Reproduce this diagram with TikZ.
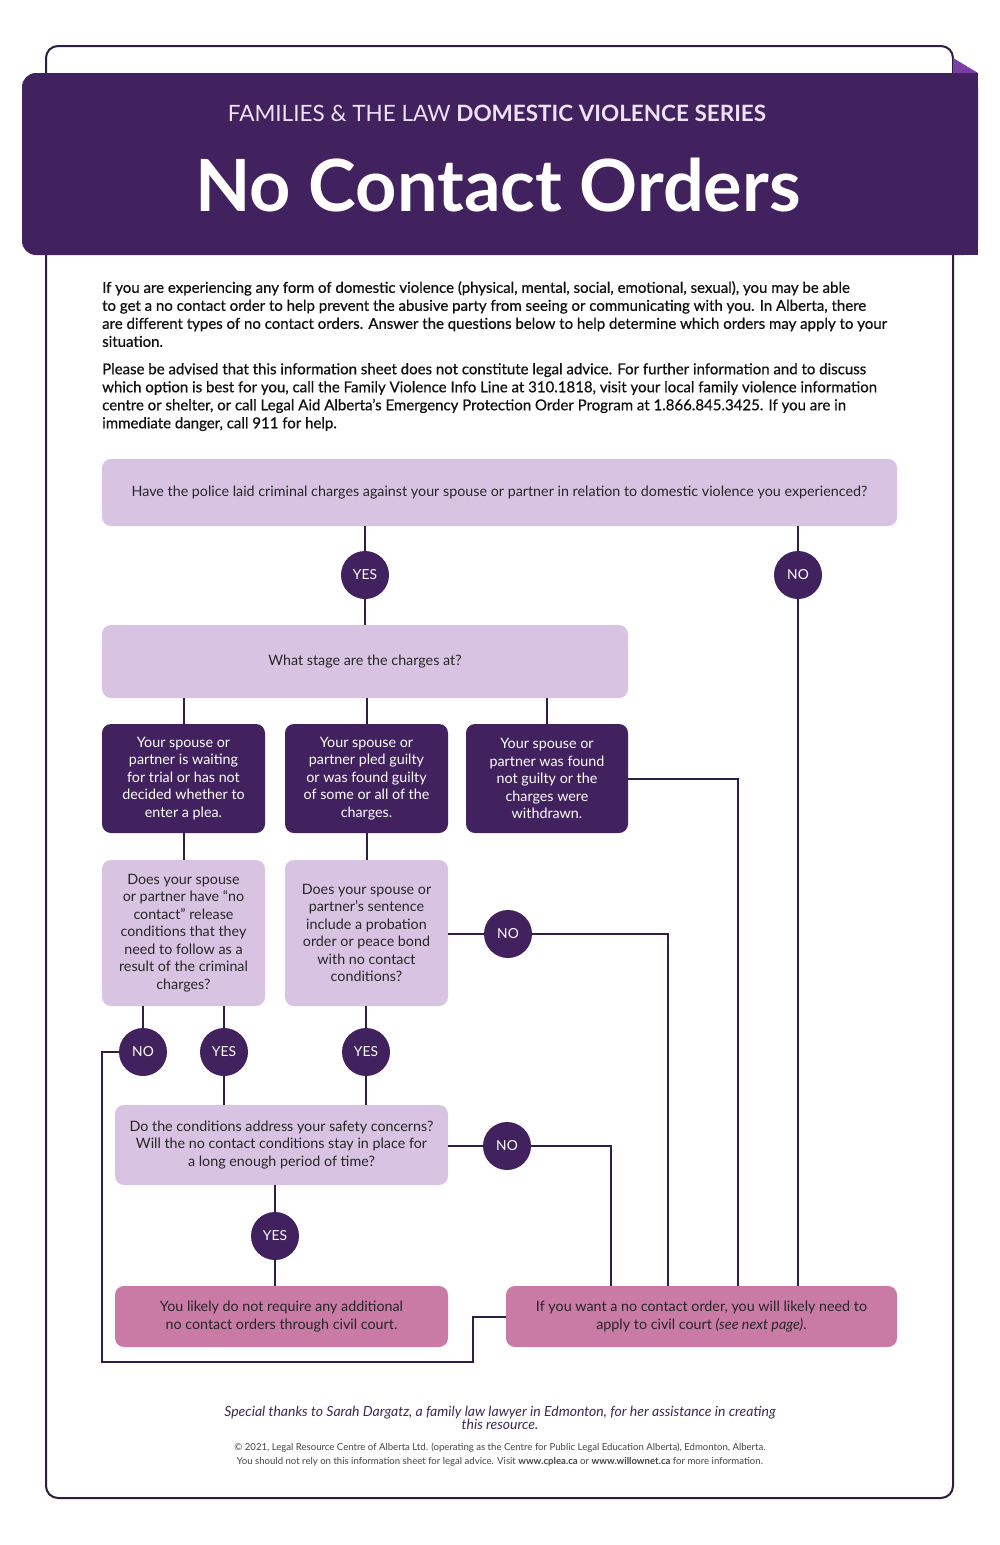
\documentclass[tikz,border=0pt]{standalone}
\usepackage{fontspec}
\setmainfont{Lato}
\usetikzlibrary{calc}
\definecolor{dp}{HTML}{42215F}
\definecolor{lav}{HTML}{D8C4E2}
\definecolor{rose}{HTML}{C97BA5}
\definecolor{ln}{HTML}{2F1F48}
\definecolor{framec}{HTML}{2B1E3F}
\definecolor{fold}{HTML}{7B3FA3}
\definecolor{hdrtxt}{HTML}{EEE2F5}
\definecolor{bodytxt}{HTML}{111111}
\definecolor{flowtxt}{HTML}{262626}
\definecolor{ftxt}{HTML}{3B2A55}
\definecolor{ctxt}{HTML}{444444}
\tikzset{
  boxbase/.style={rectangle, rounded corners=9, align=center, inner sep=0pt, font=\fontsize{14.3}{17.5}\selectfont},
  lbox/.style={boxbase, fill=lav, text=flowtxt},
  dbox/.style={boxbase, fill=dp, text=white},
  rbox/.style={boxbase, fill=rose, text=flowtxt},
  circ/.style={circle, fill=dp, text=white, minimum size=48pt, inner sep=0pt, font=\fontsize{13.8}{13.8}\selectfont},
  conn/.style={draw=ln, line width=2pt},
  introtxt/.style={anchor=north west, align=left, inner sep=0pt, text=bodytxt, font=\fontsize{15}{18}\selectfont\addfontfeature{FakeBold=0.6}},
}
\begin{document}
\begin{tikzpicture}[x=1pt,y=-1pt]
\useasboundingbox (0,0) rectangle (1000,1545);
\fill[white] (0,0) rectangle (1000,1545);
% frame
\draw[framec, line width=2pt, rounded corners=12] (46,46) rectangle (953,1498);
% header
\fill[fold] (953,58) -- (978,73) -- (953,73) -- cycle;
\fill[dp, rounded corners=14] (22,73) rectangle (978,255);
\fill[dp] (940,73) rectangle (978,255);
\node[text=hdrtxt, font=\fontsize{22.5}{22.5}\selectfont, inner sep=0pt] (series) at (497,113) {FAMILIES \& THE LAW \textbf{DOMESTIC VIOLENCE SERIES}};
\node[text=white, font=\fontsize{72}{72}\selectfont\bfseries, inner sep=0pt] (title) at (498,185) {No Contact Orders};
% intro
\node[introtxt] (intro1) at (102,281)
{If you are experiencing any form of domestic violence (physical, mental, social, emotional, sexual), you may be able\\
to get a no contact order to help prevent the abusive party from seeing or communicating with you. In Alberta, there\\
are different types of no contact orders. Answer the questions below to help determine which orders may apply to your\\
situation.};
\node[introtxt] (intro2) at (102,363)
{Please be advised that this information sheet does not constitute legal advice. For further information and to discuss\\
which option is best for you, call the Family Violence Info Line at 310.1818, visit your local family violence information\\
centre or shelter, or call Legal Aid Alberta’s Emergency Protection Order Program at 1.866.845.3425. If you are in\\
immediate danger, call 911 for help.};
% boxes
\node[lbox, minimum width=795pt, minimum height=67pt] (q1) at (499.5,492.5) {Have the police laid criminal charges against your spouse or partner in relation to domestic violence you experienced?};
\node[lbox, minimum width=526pt, minimum height=73pt] (q2) at (365,661.5) {What stage are the charges at?};
\node[dbox, minimum width=163pt, minimum height=109pt] (a) at (183.5,778.5) {Your spouse or\\partner is waiting\\for trial or has not\\decided whether to\\enter a plea.};
\node[dbox, minimum width=163pt, minimum height=109pt] (b) at (366.5,778.5) {Your spouse or\\partner pled guilty\\or was found guilty\\of some or all of the\\charges.};
\node[dbox, minimum width=162pt, minimum height=109pt] (c) at (547,778.5) {Your spouse or\\partner was found\\not guilty or the\\charges were\\withdrawn.};
\node[lbox, minimum width=163pt, minimum height=146pt] (d) at (183.5,933) {Does your spouse\\or partner have “no\\contact” release\\conditions that they\\need to follow as a\\result of the criminal\\charges?};
\node[lbox, minimum width=163pt, minimum height=146pt] (e) at (366.5,933) {Does your spouse or\\partner’s sentence\\include a probation\\order or peace bond\\with no contact\\conditions?};
\node[lbox, minimum width=333pt, minimum height=80pt] (q3) at (281.5,1145) {Do the conditions address your safety concerns?\\Will the no contact conditions stay in place for\\a long enough period of time?};
\node[rbox, minimum width=333pt, minimum height=61pt] (r1) at (281.5,1316.5) {You likely do not require any additional\\no contact orders through civil court.};
\node[rbox, minimum width=391pt, minimum height=61pt] (r2) at (701.5,1316.5) {If you want a no contact order, you will likely need to\\apply to civil court \textit{(see next page)}.};
% circles
\node[circ] (y1) at (365,575) {YES};
\node[circ] (n1) at (798,575) {NO};
\node[circ] (n2) at (508,934) {NO};
\node[circ] (n3) at (143,1052) {NO};
\node[circ] (y2) at (224,1052) {YES};
\node[circ] (y3) at (366,1052) {YES};
\node[circ] (n4) at (507,1146) {NO};
\node[circ] (y4) at (275,1236) {YES};
% bend points
\coordinate (kc) at (738,778.5);
\coordinate (k2) at (668,934);
\coordinate (k4) at (611,1146);
\coordinate (k5) at (102,1052);
\coordinate (k6) at (102,1362);
\coordinate (k7) at (473,1362);
\coordinate (k8) at (473,1316.5);
% connectors
\draw[conn] (q1.south -| y1) -- (y1.north);
\draw[conn] (y1.south) -- (q2.north -| y1);
\draw[conn] (q1.south -| n1) -- (n1.north);
\draw[conn] (n1.south) -- (r2.north -| n1);
\draw[conn] (q2.south -| a) -- (a.north);
\draw[conn] (q2.south -| b) -- (b.north);
\draw[conn] (q2.south -| c) -- (c.north);
\draw[conn] (c.east) -- (kc) -- (kc |- r2.north);
\draw[conn] (a.south) -- (d.north);
\draw[conn] (b.south) -- (e.north);
\draw[conn] (e.east |- n2) -- (n2.west);
\draw[conn] (n2.east) -- (k2) -- (k2 |- r2.north);
\draw[conn] (d.south -| n3) -- (n3.north);
\draw[conn] (d.south -| y2) -- (y2.north);
\draw[conn] (e.south -| y3) -- (y3.north);
\draw[conn] (y2.south) -- (q3.north -| y2);
\draw[conn] (y3.south) -- (q3.north -| y3);
\draw[conn] (q3.east |- n4) -- (n4.west);
\draw[conn] (n4.east) -- (k4) -- (k4 |- r2.north);
\draw[conn] (q3.south -| y4) -- (y4.north);
\draw[conn] (y4.south) -- (r1.north -| y4);
\draw[conn] (n3.west) -- (k5) -- (k6) -- (k7) -- (k8) -- (r2.west);
% footer
\node[align=center, inner sep=0pt, text=ftxt, font=\fontsize{14}{13}\selectfont\itshape] (thanks) at (500,1418) {Special thanks to Sarah Dargatz, a family law lawyer in Edmonton, for her assistance in creating\\this resource.};
\node[align=center, inner sep=0pt, text=ctxt, font=\fontsize{9.6}{14}\selectfont] (copy) at (500,1455) {© 2021, Legal Resource Centre of Alberta Ltd. (operating as the Centre for Public Legal Education Alberta), Edmonton, Alberta.\\You should not rely on this information sheet for legal advice. Visit \textbf{www.cplea.ca} or \textbf{www.willownet.ca} for more information.};
\end{tikzpicture}
\end{document}
